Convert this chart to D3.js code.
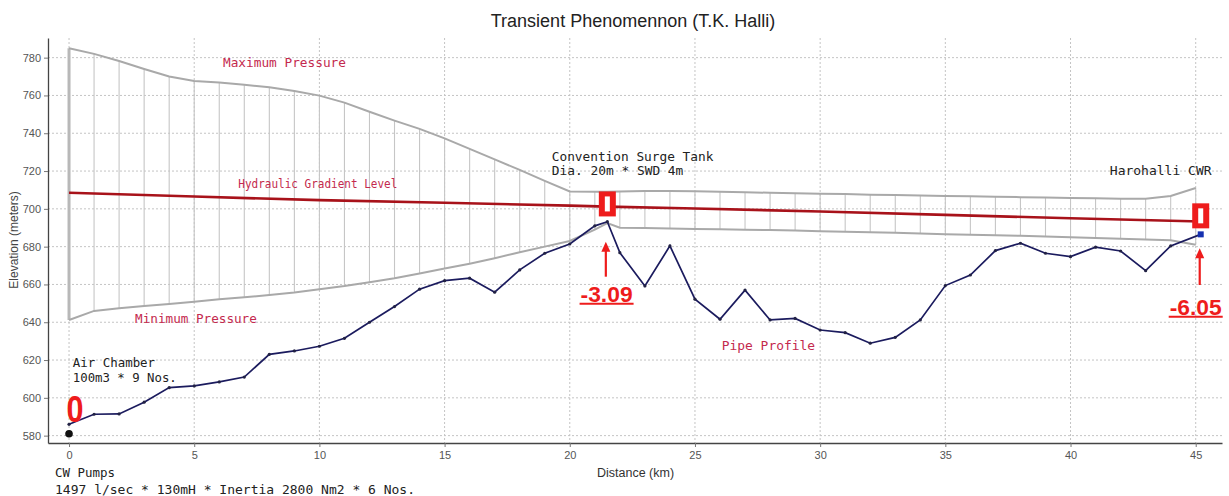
<!DOCTYPE html>
<html><head><meta charset="utf-8">
<script src="https://cdn.jsdelivr.net/npm/d3@7"></script>
<style>html,body{margin:0;padding:0;background:#fff;} svg{display:block}</style>
</head><body><svg id="c" width="1229" height="496"></svg>
<script>
const chartTitle = "Transient Phenomennon (T.K. Halli)";
const xLabel = "Distance (km)";
const yLabel = "Elevation (meters)";
const xTicks = [0, 5, 10, 15, 20, 25, 30, 35, 40, 45];
const yTicks = [580, 600, 620, 640, 660, 680, 700, 720, 740, 760, 780];

// pressure envelope (km)
const envKm = [0,1,2,3,4,5,6,7,8,9,10,11,12,13,14,15,16,17,18,19,20,21,21.5,22,23,24,25,26,27,28,29,30,31,32,33,34,35,36,37,38,39,40,41,42,43,44,45];
const maxPressure = [785,782,778.2,774,770,767.7,766.8,765.6,764.3,762.4,759.9,756.2,751.4,746.7,742.3,737.3,731.7,726.2,720.6,714.8,709.2,709,709,709.2,709.4,709.5,709.3,709,708.8,708.5,708.3,708,707.8,707.5,707.3,707,706.8,706.6,706.4,706.2,706,705.8,705.6,705.4,705.3,706.8,711];
const minPressure = [641.2,646,647.4,648.6,649.7,650.9,652.2,653.2,654.4,655.7,657.5,659.2,661.2,663.3,665.8,668.4,671,673.9,677,680,683,689,692.5,690,689.8,689.6,689.4,689.2,689,688.8,688.5,688.2,687.9,687.6,687.3,687,686.6,686.3,686,685.7,685.4,685,684.6,684.2,683.8,683.4,681];
const hatchKm = [0,1,2,3,4,5,6,7,8,9,10,11,12,13,14,15,16,17,18,19,20,21,22,23,24,25,26,27,28,29,30,31,32,33,34,35,36,37,38,39,40,41,42,43,44,45];

// pipe profile
const profileKm = [0,1,2,3,4,5,6,7,8,9,10,11,12,13,14,15,16,17,18,19,20,21,21.5,22,23,24,25,26,27,28,29,30,31,32,33,34,35,36,37,38,39,40,41,42,43,44,45.2];
const profileElev = [586,591.3,591.5,597.7,605.4,606.3,608.4,611,623,624.8,627.3,631.5,640,648.3,657.5,662,663.3,655.9,667.7,676.5,681.4,691,693.2,676.8,659.2,680.4,652.2,641.6,657,641.2,642,635.9,634.5,628.9,632,641.2,659.4,665,677.9,681.8,676.5,674.7,679.7,677.7,667.3,680.4,686.5];

// hydraulic gradient level
const hglKm = [0,5,10,15,20,21.5,25,30,35,40,45.2];
const hglElev = [708.5,706.5,704.6,703.2,701.7,701.2,700.2,698.6,696.8,695,693.3];

const pumpElev = 581;
const markerKm = [21.5, 45.2];
const markerRectElev = [702.6, 696.3];
const markerLabels = ["-3.09", "-6.05"];
const markerLabelKm = [21.47, 45.0];

const svg = d3.select("#c");
const x = d3.scaleLinear().domain([-0.84, 46.05]).range([48, 1222]);
const y = d3.scaleLinear().domain([576.1, 790.4]).range([443, 38]);
const [x0, x1] = x.range();
const [yb, yt] = y.range();

// title
svg.append("text").attr("x", 633).attr("y", 27).attr("text-anchor", "middle")
  .attr("font-family", "Liberation Sans, Arial, sans-serif").attr("font-size", 18)
  .attr("fill", "#222").text(chartTitle);

// grid
const grid = svg.append("g");
grid.selectAll(".gy").data(yTicks).join("line")
  .attr("x1", x0).attr("x2", x1).attr("y1", d => y(d)).attr("y2", d => y(d))
  .attr("stroke", "#c4c4c4").attr("stroke-width", 1).attr("stroke-dasharray", "2,2");
grid.selectAll(".gx").data(xTicks).join("line")
  .attr("x1", d => x(d)).attr("x2", d => x(d)).attr("y1", yt).attr("y2", yb)
  .attr("stroke", "#c4c4c4").attr("stroke-width", 1).attr("stroke-dasharray", "2,2");

// hatch verticals between envelopes
const maxAt = k => maxPressure[envKm.indexOf(k)];
const minAt = k => minPressure[envKm.indexOf(k)];
svg.append("g").selectAll("line").data(hatchKm).join("line")
  .attr("x1", d => x(d)).attr("x2", d => x(d))
  .attr("y1", d => y(maxAt(d))).attr("y2", d => y(minAt(d)))
  .attr("stroke", d => d === 0 ? "#b8b8b8" : "#c6c6c6")
  .attr("stroke-width", d => d === 0 ? 3 : 1.1);

// envelope lines
const env = envKm.map((k, i) => ({k, max: maxPressure[i], min: minPressure[i]}));
svg.append("path").datum(env)
  .attr("d", d3.line().x(d => x(d.k)).y(d => y(d.max)))
  .attr("fill", "none").attr("stroke", "#a9a9a9").attr("stroke-width", 2);
svg.append("path").datum(env)
  .attr("d", d3.line().x(d => x(d.k)).y(d => y(d.min)))
  .attr("fill", "none").attr("stroke", "#a9a9a9").attr("stroke-width", 2);

// HGL
const hgl = hglKm.map((k, i) => ({k, v: hglElev[i]}));
svg.append("path").datum(hgl)
  .attr("d", d3.line().x(d => x(d.k)).y(d => y(d.v)))
  .attr("fill", "none").attr("stroke", "#a8121a").attr("stroke-width", 2.6);

// pipe profile
const prof = profileKm.map((k, i) => ({k, v: profileElev[i]}));
svg.append("path").datum(prof)
  .attr("d", d3.line().x(d => x(d.k)).y(d => y(d.v)))
  .attr("fill", "none").attr("stroke", "#1b1b5e").attr("stroke-width", 1.7);
svg.append("g").selectAll("circle").data(prof.slice(0, -1)).join("circle")
  .attr("cx", d => x(d.k)).attr("cy", d => y(d.v)).attr("r", 1.6).attr("fill", "#222244");
const last = prof[prof.length - 1];
svg.append("rect").attr("x", x(last.k) - 3).attr("y", y(last.v) - 3).attr("width", 6).attr("height", 6)
  .attr("fill", "#1530b0");
// pump
svg.append("circle").attr("cx", x(0)).attr("cy", y(pumpElev)).attr("r", 3.8).attr("fill", "#111");

// axes
const ax = svg.append("g").attr("transform", `translate(0,${yb})`)
  .call(d3.axisBottom(x).tickValues(xTicks).tickSize(4).tickSizeOuter(0).tickPadding(4));
const ay = svg.append("g").attr("transform", `translate(${x0},0)`)
  .call(d3.axisLeft(y).tickValues(yTicks).tickSize(4).tickSizeOuter(0).tickPadding(3));
[ax, ay].forEach(a => {
  a.select(".domain").attr("stroke", "#444").attr("stroke-width", 1.3);
  a.selectAll(".tick line").attr("stroke", "#777");
  a.selectAll("text").attr("font-family", "Liberation Sans, Arial, sans-serif")
    .attr("font-size", 11).attr("fill", "#555");
});

svg.append("text").attr("x", 635.5).attr("y", 477).attr("text-anchor", "middle")
  .attr("font-family", "Liberation Sans, Arial, sans-serif").attr("font-size", 12.5)
  .attr("fill", "#333").text(xLabel);
svg.append("text").attr("transform", "translate(18,240) rotate(-90)").attr("text-anchor", "middle")
  .attr("font-family", "Liberation Sans, Arial, sans-serif").attr("font-size", 12)
  .attr("fill", "#444").text(yLabel);

// annotations (monospace)
const notes = [
  {t: "Maximum Pressure", k: 6.15, v: 775.2, w: 123, c: "#c42a4e"},
  {t: "Hydraulic Gradient Level", k: 6.76, v: 710.9, w: 159, c: "#c42a4e"},
  {t: "Minimum Pressure", k: 2.64, v: 639.5, w: 121.7, c: "#c42a4e"},
  {t: "Pipe Profile", k: 26.07, v: 625.3, w: 93.3, c: "#c42a4e"},
  {t: "Air Chamber", k: 0.15, v: 616.5, w: 82.3, c: "#222"},
  {t: "100m3 * 9 Nos.", k: 0.15, v: 608.6, w: 104, c: "#222"},
  {t: "Convention Surge Tank", k: 19.28, v: 725.5, w: 161.6, c: "#222"},
  {t: "Dia. 20m * SWD 4m", k: 19.28, v: 717.9, w: 131.6, c: "#222"},
  {t: "Harohalli CWR", k: 41.57, v: 717.9, w: 101.7, c: "#222"}
];
svg.append("g").selectAll("text").data(notes).join("text")
  .attr("x", d => x(d.k)).attr("y", d => y(d.v))
  .attr("font-family", "DejaVu Sans Mono, monospace").attr("font-size", 12)
  .attr("textLength", d => d.w).attr("lengthAdjust", "spacingAndGlyphs")
  .attr("fill", d => d.c).text(d => d.t);

// bottom notes under axis
const bottomNotes = [
  {t: "CW Pumps", dy: 34, w: 60},
  {t: "1497 l/sec * 130mH * Inertia 2800 Nm2 * 6 Nos.", dy: 50.5, w: 360}
];
svg.append("g").selectAll("text").data(bottomNotes).join("text")
  .attr("x", x(-0.56)).attr("y", d => yb + d.dy)
  .attr("font-family", "DejaVu Sans Mono, monospace").attr("font-size", 12)
  .attr("textLength", d => d.w).attr("lengthAdjust", "spacingAndGlyphs")
  .attr("fill", "#222").text(d => d.t);

// red markers
const red = "#ee1c1c";
markerKm.forEach((k, i) => {
  const cx = x(k), cy = y(markerRectElev[i]);
  svg.append("rect").attr("x", cx - 8.5).attr("y", cy - 12.5).attr("width", 17).attr("height", 25).attr("fill", red);
  svg.append("rect").attr("x", cx - 2.5).attr("y", cy - 7.5).attr("width", 5).attr("height", 15).attr("fill", "#fff");
});
// arrows
const arrowFrom = [664.1, 659.7];
const arrowTo = [682.6, 679.2];
markerKm.forEach((k, i) => {
  const ax_ = x(k) - (i === 0 ? 1.5 : 1);
  const yTip = y(arrowTo[i]), yBase = y(arrowFrom[i]);
  svg.append("line").attr("x1", ax_).attr("x2", ax_).attr("y1", yBase).attr("y2", yTip + 6)
    .attr("stroke", red).attr("stroke-width", 2.2);
  svg.append("path").attr("d", `M${ax_},${yTip} L${ax_ - 4.5},${yTip + 10} L${ax_ + 4.5},${yTip + 10} Z`).attr("fill", red);
});
// value labels
const labelElev = [650.9, 643.9];
markerLabels.forEach((t, i) => {
  const cx = x(markerLabelKm[i]), by = y(labelElev[i]);
  svg.append("text").attr("x", cx).attr("y", by).attr("text-anchor", "middle")
    .attr("font-family", "Liberation Sans, Arial, sans-serif").attr("font-weight", "bold")
    .attr("font-size", 22).attr("textLength", 52).attr("lengthAdjust", "spacingAndGlyphs")
    .attr("fill", red).text(t);
  svg.append("line").attr("x1", cx - 27).attr("x2", cx + 27).attr("y1", by + 2).attr("y2", by + 2)
    .attr("stroke", red).attr("stroke-width", 2);
});
// big zero
svg.append("text").attr("x", x(0.24)).attr("y", y(587.4)).attr("text-anchor", "middle")
  .attr("font-family", "Liberation Sans, Arial, sans-serif").attr("font-weight", "bold")
  .attr("font-size", 36).attr("textLength", 17).attr("lengthAdjust", "spacingAndGlyphs")
  .attr("fill", red).text("0");
</script></body></html>
